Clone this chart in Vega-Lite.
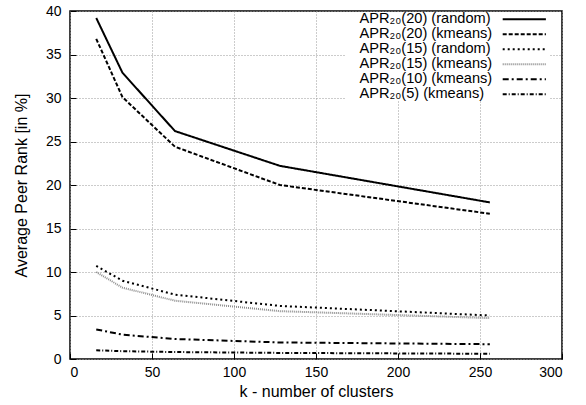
{
  "$schema": "https://vega.github.io/schema/vega-lite/v6.json",
  "width": 492,
  "height": 348,
  "autosize": {"type": "none"},
  "padding": {"left": 70, "top": 11, "right": 24, "bottom": 46},
  "config": {
    "font": "Liberation Sans",
    "view": {"stroke": "black", "strokeWidth": 1.5},
    "axis": {
      "domain": false,
      "grid": true,
      "gridColor": "#999999",
      "gridDash": [1, 2],
      "gridWidth": 1,
      "ticks": true,
      "tickColor": "black",
      "tickSize": -6,
      "tickWidth": 1,
      "labelFontSize": 14,
      "labelColor": "black",
      "titleFontSize": 16,
      "titleFontWeight": "normal",
      "titleColor": "black"
    },
    "legend": {
      "orient": "none",
      "legendX": 275,
      "legendY": 1,
      "symbolType": "M-3.6,0H3.6",
      "symbolSize": 144,
      "symbolStrokeWidth": 2,
      "symbolOffset": 172,
      "labelAlign": "left",
      "labelOffset": -172,
      "labelFontSize": 14.6,
      "labelColor": "black",
      "labelLimit": 300,
      "labelExpr": "indexof(datum.label, '(5)') >= 0 ? '\u2007' + datum.label : datum.label",
      "rowPadding": 0,
      "fillColor": "white",
      "padding": 0
    }
  },
  "data": {
    "values": [
      {"series": "APR₂₀(20) (random)", "k": 16, "v": 39.2},
      {"series": "APR₂₀(20) (random)", "k": 32, "v": 32.9},
      {"series": "APR₂₀(20) (random)", "k": 64, "v": 26.2},
      {"series": "APR₂₀(20) (random)", "k": 128, "v": 22.2},
      {"series": "APR₂₀(20) (random)", "k": 256, "v": 18.0},
      {"series": "APR₂₀(20) (kmeans)", "k": 16, "v": 36.8},
      {"series": "APR₂₀(20) (kmeans)", "k": 32, "v": 30.1},
      {"series": "APR₂₀(20) (kmeans)", "k": 64, "v": 24.4},
      {"series": "APR₂₀(20) (kmeans)", "k": 128, "v": 20.0},
      {"series": "APR₂₀(20) (kmeans)", "k": 256, "v": 16.7},
      {"series": "APR₂₀(15) (random)", "k": 16, "v": 10.7},
      {"series": "APR₂₀(15) (random)", "k": 32, "v": 9.0},
      {"series": "APR₂₀(15) (random)", "k": 64, "v": 7.4},
      {"series": "APR₂₀(15) (random)", "k": 128, "v": 6.1},
      {"series": "APR₂₀(15) (random)", "k": 256, "v": 5.0},
      {"series": "APR₂₀(15) (kmeans)", "k": 16, "v": 10.0},
      {"series": "APR₂₀(15) (kmeans)", "k": 32, "v": 8.2},
      {"series": "APR₂₀(15) (kmeans)", "k": 64, "v": 6.7},
      {"series": "APR₂₀(15) (kmeans)", "k": 128, "v": 5.5},
      {"series": "APR₂₀(15) (kmeans)", "k": 256, "v": 4.7},
      {"series": "APR₂₀(10) (kmeans)", "k": 16, "v": 3.4},
      {"series": "APR₂₀(10) (kmeans)", "k": 32, "v": 2.8},
      {"series": "APR₂₀(10) (kmeans)", "k": 64, "v": 2.3},
      {"series": "APR₂₀(10) (kmeans)", "k": 128, "v": 1.9},
      {"series": "APR₂₀(10) (kmeans)", "k": 256, "v": 1.7},
      {"series": "APR₂₀(5) (kmeans)", "k": 16, "v": 1.0},
      {"series": "APR₂₀(5) (kmeans)", "k": 32, "v": 0.9},
      {"series": "APR₂₀(5) (kmeans)", "k": 64, "v": 0.8},
      {"series": "APR₂₀(5) (kmeans)", "k": 128, "v": 0.7},
      {"series": "APR₂₀(5) (kmeans)", "k": 256, "v": 0.6}
    ]
  },
  "mark": {"type": "line", "strokeWidth": 2, "clip": true},
  "encoding": {
    "x": {
      "field": "k",
      "type": "quantitative",
      "scale": {"domain": [0, 300], "nice": false},
      "axis": {"values": [0, 50, 100, 150, 200, 250, 300], "title": "k - number of clusters", "labelPadding": 12, "titlePadding": 4}
    },
    "y": {
      "field": "v",
      "type": "quantitative",
      "scale": {"domain": [0, 40], "nice": false},
      "axis": {"values": [0, 5, 10, 15, 20, 25, 30, 35, 40], "title": "Average Peer Rank [in %]", "labelPadding": 15, "titlePadding": 16}
    },
    "color": {
      "field": "series",
      "type": "nominal",
      "scale": {
        "domain": ["APR₂₀(20) (random)", "APR₂₀(20) (kmeans)", "APR₂₀(15) (random)", "APR₂₀(15) (kmeans)", "APR₂₀(10) (kmeans)", "APR₂₀(5) (kmeans)"],
        "range": ["black", "black", "black", "#8c8c8c", "black", "black"]
      },
      "legend": {"title": null}
    },
    "strokeDash": {
      "field": "series",
      "type": "nominal",
      "scale": {
        "domain": ["APR₂₀(20) (random)", "APR₂₀(20) (kmeans)", "APR₂₀(15) (random)", "APR₂₀(15) (kmeans)", "APR₂₀(10) (kmeans)", "APR₂₀(5) (kmeans)"],
        "range": [[1, 0], [4, 2], [2, 3], [1, 1], [6, 3, 2, 3], [4, 2, 1, 2]]
      },
      "legend": {"title": null}
    }
  }
}
